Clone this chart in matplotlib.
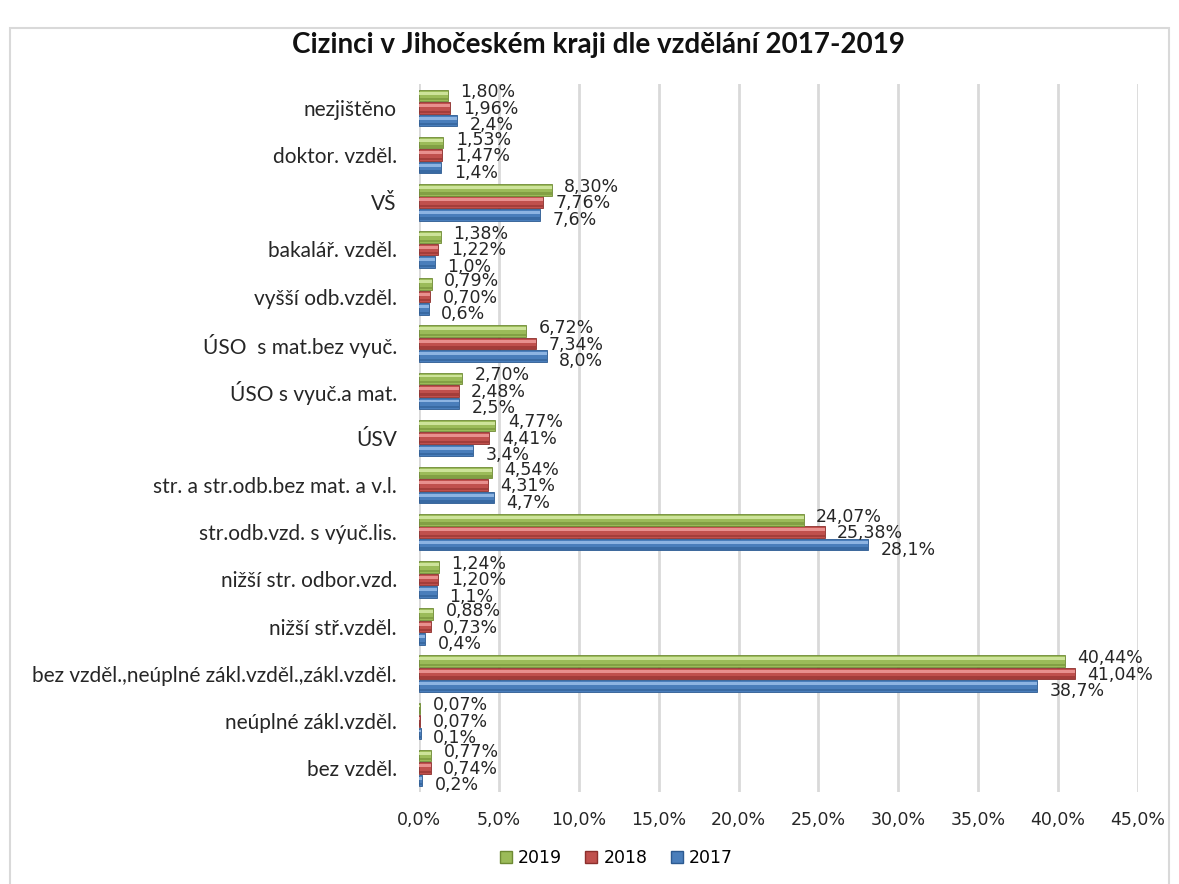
import numpy as np
import matplotlib; matplotlib.use("Agg")
import matplotlib.pyplot as plt
from matplotlib.patches import Rectangle
from matplotlib.lines import Line2D

# categories listed top -> bottom, as in the chart
CATS = ["nezjištěno", "doktor. vzděl.", "VŠ", "bakalář. vzděl.", "vyšší odb.vzděl.",
        "ÚSO  s mat.bez vyuč.", "ÚSO s vyuč.a mat.", "ÚSV",
        "str. a str.odb.bez mat. a v.l.", "str.odb.vzd. s výuč.lis.",
        "nižší str. odbor.vzd.", "nižší stř.vzděl.",
        "bez vzděl.,neúplné zákl.vzděl.,zákl.vzděl.", "neúplné zákl.vzděl.", "bez vzděl."]
V2017 = [2.4, 1.4, 7.6, 1.0, 0.6, 8.0, 2.5, 3.4, 4.7, 28.1, 1.1, 0.4, 38.7, 0.1, 0.2]
V2018 = [1.96, 1.47, 7.76, 1.22, 0.70, 7.34, 2.48, 4.41, 4.31, 25.38, 1.20, 0.73, 41.04, 0.07, 0.74]
V2019 = [1.80, 1.53, 8.30, 1.38, 0.79, 6.72, 2.70, 4.77, 4.54, 24.07, 1.24, 0.88, 40.44, 0.07, 0.77]
XTICKS = [0, 5, 10, 15, 20, 25, 30, 35, 40, 45]

# (label, values, base, light, dark, offset, decimals, label dy px)
SERIES = [
    ("2017", V2017, "#4A7EBB", "#8DB4E2", "#2C5A91", -0.265, 1, -5),
    ("2018", V2018, "#C0504D", "#E8908E", "#8C2F2C", 0.0, 2, -1),
    ("2019", V2019, "#9BBB59", "#CDE39A", "#6E8A34", 0.265, 2, 3),
]
H = 0.245

fig = plt.figure(figsize=(11.79, 8.84), dpi=100)
fig.patches.append(Rectangle((10 / 1179, -0.1), (1169 - 10) / 1179, 1.1 - 28 / 884,
                             transform=fig.transFigure, fill=False, ec="#D9D9D9", lw=1.5))
ax = fig.add_axes([419 / 1179, 1 - 791.5 / 884, (1138 - 419) / 1179, (791.5 - 84.4) / 884])

n = len(CATS)
ypos = np.arange(n)[::-1]
for name, vals, base, light, dark, off, dec, dy in SERIES:
    y = ypos + off
    vals = np.array(vals)
    ax.barh(y, vals, height=H, color=base, edgecolor=dark, lw=0.6, zorder=3)
    ax.barh(y + H * 0.2, vals, height=H * 0.25, color=light, lw=0, zorder=4)
    ax.barh(y - H * 0.33, vals, height=H * 0.2, color=dark, lw=0, alpha=0.55, zorder=4)
    for yy, v in zip(y, vals):
        txt = f"{v:.{dec}f}%".replace(".", ",")
        ax.annotate(txt, (v, yy), xytext=(9, dy * 0.72), textcoords="offset points",
                    ha="left", va="center", fontsize=12.5, color="#262626",
                    family="DejaVu Sans", zorder=5)

ax.set_xlim(0, 45)
ax.set_ylim(-0.5, n - 0.5)
ax.set_xticks(XTICKS)
ax.set_xticklabels([f"{t:.1f}%".replace(".", ",") for t in XTICKS],
                   fontsize=12.5, color="#262626", family="DejaVu Sans")
ax.set_yticks(ypos)
ax.set_yticklabels(CATS, fontsize=15, color="#262626", family="Lato")
ax.tick_params(axis="both", length=0)
ax.tick_params(axis="y", pad=16)
ax.tick_params(axis="x", pad=14)
ax.grid(axis="x", color="#D9D9D9", lw=2, zorder=0)
for s in ax.spines.values():
    s.set_visible(False)

fig.text(598 / 1179, 1 - 45 / 884, "Cizinci v Jihočeském kraji dle vzdělání 2017-2019",
         ha="center", va="center", fontsize=20, fontweight="bold", family="Lato", color="#111111")

handles = [Line2D([], [], ls="none", marker="s", ms=9, mfc=s[2], mec=s[4]) for s in SERIES[::-1]]
fig.legend(handles, [s[0] for s in SERIES[::-1]], loc="center", bbox_to_anchor=(615 / 1179, 1 - 858 / 884),
           ncol=3, frameon=False, prop={"family": "DejaVu Sans", "size": 12.5},
           handletextpad=0.2, columnspacing=1.2, handlelength=1.0)

fig.savefig("out.png", dpi=100)
